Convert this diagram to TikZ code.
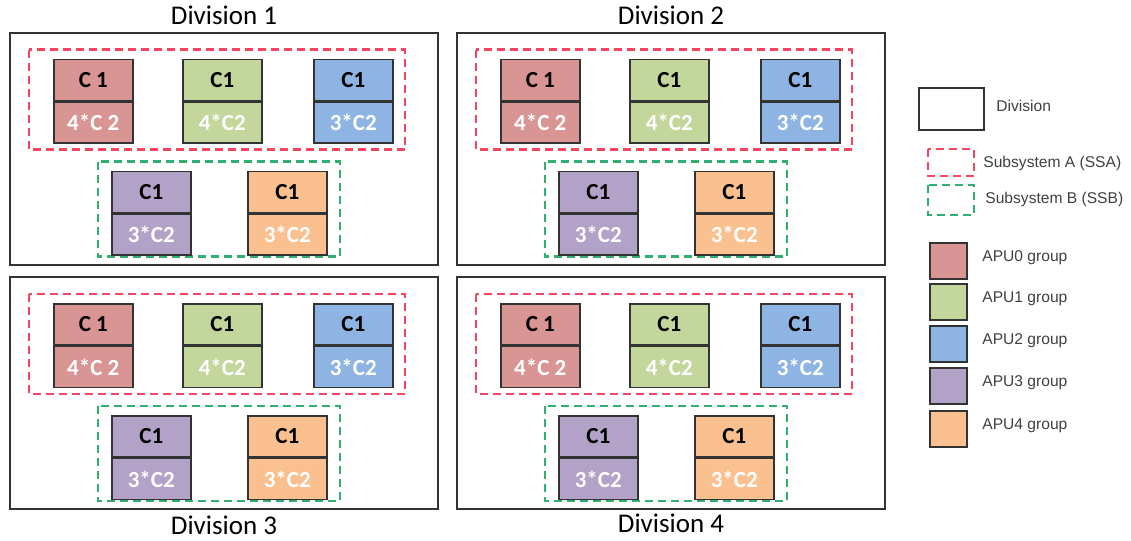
\documentclass[tikz,border=0pt]{standalone}
\usepackage{fontspec}
\setmainfont{Carlito}
\newfontfamily\legendfont{Liberation Sans}
\usetikzlibrary{positioning}

\definecolor{apuzero}{HTML}{D99594}
\definecolor{apuone}{HTML}{C3D69B}
\definecolor{aputwo}{HTML}{8DB4E2}
\definecolor{aputhree}{HTML}{B3A2C7}
\definecolor{apufour}{HTML}{FAC08F}
\definecolor{ssared}{HTML}{F54560}
\definecolor{ssbgreen}{HTML}{30B070}
\definecolor{divgray}{HTML}{333333}

\tikzset{
  divline/.style={draw=divgray, line width=1pt},
  ssaline/.style={draw=ssared, line width=1.1pt, dash pattern=on 4pt off 2.5pt},
  ssbline/.style={draw=ssbgreen, line width=1.1pt, dash pattern=on 4pt off 2.5pt},
  cpart/.style={draw=black!80, line width=0.8pt, minimum width=39.5pt, minimum height=20.5pt,
    inner sep=0pt, font=\fontsize{11.5}{12}\selectfont\bfseries},
  divtitle/.style={font=\fontsize{13.5}{15}\selectfont},
  legtext/.style={anchor=west, inner sep=0pt, font=\legendfont\fontsize{7.8}{9}\selectfont, text=black!75},
  legbox/.style={draw=black!80, line width=0.8pt, minimum width=18.5pt, minimum height=18pt, inner sep=0pt}
}

\begin{document}
\begin{tikzpicture}[x=0.5pt, y=-0.5pt]
  \useasboundingbox (0,0) rectangle (1131,541);

  % four divisions
  \foreach \d/\ox/\oy/\ty in {1/10/32.5/-17, 2/457/32.5/-17, 3/10/277/248, 4/457/277/246} {
    \begin{scope}[shift={(\ox,\oy)}]
      \draw[divline] (0,0) rectangle (428,232);
      \node[divtitle] (title\d) at (214,\ty) {Division \d};
      \draw[ssaline] (19,17) rectangle (395,117);
      \draw[ssbline] (88,129) rectangle (330,224);
      \foreach \n/\x/\y/\col/\top/\bot in {0/43/26/apuzero/C 1/4*C 2, 1/172/26/apuone/C1/4*C2,
          2/303/26/aputwo/C1/3*C2, 3/101/138/aputhree/C1/3*C2, 4/237/138/apufour/C1/3*C2} {
        \node[cpart, fill=\col, anchor=north west] (top\d\n) at (\x,\y) {\top};
        \node[cpart, fill=\col, text=white, below=0pt of top\d\n] (bot\d\n) {\bot};
      }
    \end{scope}
  }

  % legend
  \node[draw=divgray, line width=1pt, minimum width=32.5pt, minimum height=21pt, anchor=north west] (legdiv) at (918,87) {};
  \node[legtext] (legdivtext) at (996,106) {Division};
  \draw[ssaline] (928,149) rectangle (974,176);
  \node[legtext] (legssa) at (983,163) {Subsystem A (SSA)};
  \draw[ssbline] (928,185) rectangle (974,215);
  \node[legtext] (legssb) at (985,199) {Subsystem B (SSB)};

  \foreach \i/\y/\col in {0/242/apuzero, 1/283/apuone, 2/325/aputwo, 3/367/aputhree, 4/410/apufour} {
    \node[legbox, fill=\col, anchor=north west] (leg\i) at (929,\y) {};
    \node[legtext] (legtext\i) at (982,\y+16) {APU\i{} group};
  }
\end{tikzpicture}
\end{document}
